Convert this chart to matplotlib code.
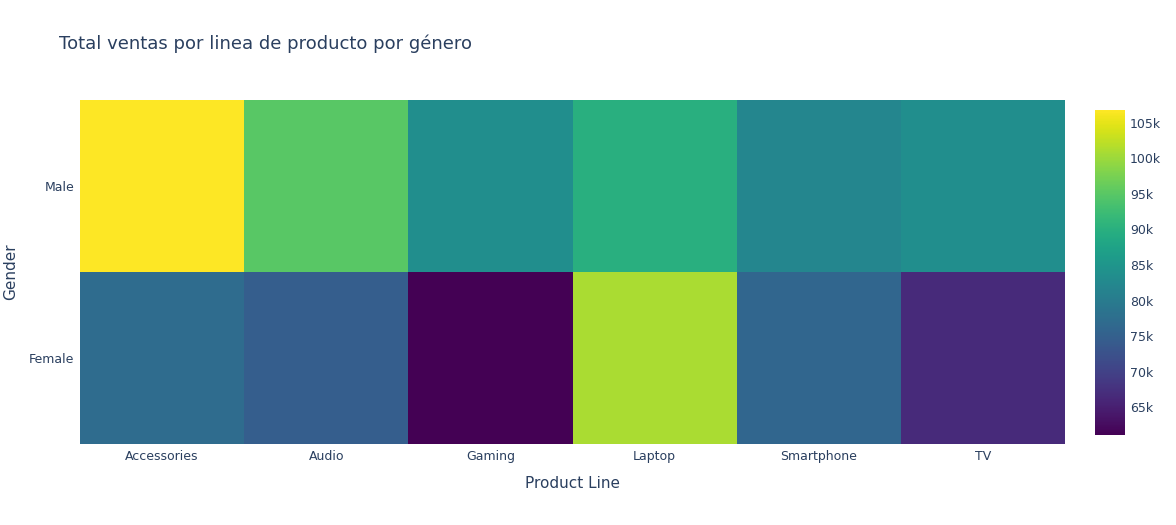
import matplotlib
matplotlib.use('Agg')
import matplotlib.pyplot as plt
import numpy as np

# Datos
product_lines = ['Accessories', 'Audio', 'Gaming', 'Laptop', 'Smartphone', 'TV']
genders = ['Female', 'Male']
ventas_female = [77000, 74500, 61100, 101000, 76000, 66500]
ventas_male = [106800, 95000, 83500, 90000, 82000, 83500]
cbar_ticks = [65000, 70000, 75000, 80000, 85000, 90000, 95000, 100000, 105000]

plt.rcParams['font.family'] = 'DejaVu Sans'
text_color = '#2a3f5f'

fig = plt.figure(figsize=(11.76, 5.25), dpi=100)
ax = fig.add_axes([80 / 1176, 1 - 444 / 525, 985 / 1176, 344 / 525])
cax = fig.add_axes([1095 / 1176, 1 - 435 / 525, 30 / 1176, 325 / 525])

data = np.array([ventas_female, ventas_male])
mesh = ax.pcolormesh(data, cmap='viridis', vmin=data.min(), vmax=data.max())
ax.set_xticks(np.arange(len(product_lines)) + 0.5)
ax.set_xticklabels(product_lines, fontsize=9, color=text_color)
ax.set_yticks(np.arange(len(genders)) + 0.5)
ax.set_yticklabels(genders, fontsize=9, color=text_color)
ax.tick_params(length=0, pad=4)
for s in ax.spines.values():
    s.set_visible(False)
ax.set_xlabel('Product Line', fontsize=11, color=text_color, labelpad=10)
ax.set_ylabel('Gender', fontsize=11, color=text_color, labelpad=8)

cb = fig.colorbar(mesh, cax=cax)
cb.set_ticks(cbar_ticks)
cb.set_ticklabels([f'{int(t / 1000)}k' for t in cbar_ticks])
cb.ax.tick_params(labelsize=9, colors=text_color, length=0)
cb.outline.set_visible(False)

fig.text(59 / 1176, 1 - 44 / 525, 'Total ventas por linea de producto por género',
         fontsize=13, color=text_color, va='center')

fig.savefig('out.png', dpi=100)
